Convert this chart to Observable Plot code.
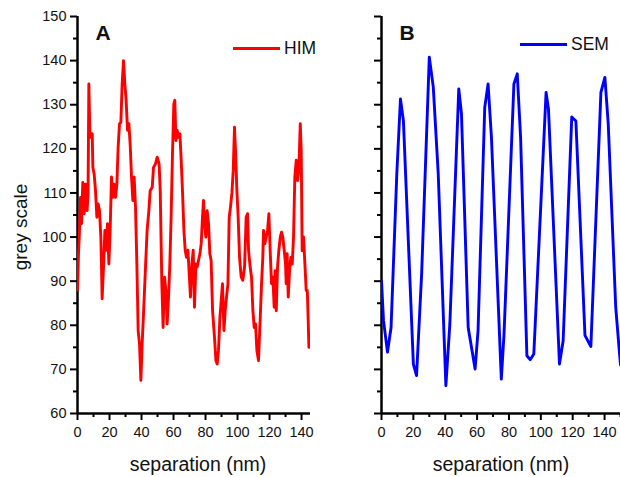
<!DOCTYPE html>
<html>
<head>
<meta charset="utf-8">
<script src="https://cdn.jsdelivr.net/npm/d3@7"></script>
<script src="https://cdn.jsdelivr.net/npm/@observablehq/plot@0.6"></script>
<style>
  html, body { margin: 0; padding: 0; background: #fff; }
  #wrap { position: relative; width: 620px; height: 477px; overflow: hidden; font-family: "Liberation Sans", Arial, sans-serif; color: #000; }
  #wrap svg { position: absolute; top: 0; }
  .leg { position: absolute; display: flex; align-items: center; font-size: 17.5px; line-height: 20px; color: #111; }
  .leg .sw { width: 47px; height: 3px; margin-right: 4px; }
</style>
</head>
<body>
<div id="wrap"></div>
<script>
// ---- data ----
const himX = [0,0.6,1.25,1.9,2.5,3.3,4.2,5,6,6.6,7.1,7.7,8.3,9.2,9.6,10.4,11.25,12.1,12.9,13.75,14.6,15.4,16.5,17.1,17.9,18.75,19.6,20.4,21.25,22.1,22.9,23.75,24.6,25.4,26.25,27.1,27.9,28.75,29.6,30.4,31.25,32.1,32.9,33.75,34.6,35.4,36.25,37.1,37.9,38.75,39.6,40.4,41.25,42.5,43.5,44.6,45.4,46.7,47.5,48.75,49.8,51,51.7,52.7,53.5,54.4,55.2,56,56.9,57.7,58.5,59.4,60.2,60.8,61.5,62.3,63.1,64,64.8,65.6,66.5,67.3,68.1,69,69.8,70.6,71.5,72.3,73.1,74,74.8,75.6,76.5,77.3,78.1,78.75,79.4,80.2,81,81.9,82.7,83.5,84.4,85.6,86.5,87.3,88.1,89,89.8,90.6,91.5,92.3,93.1,94,94.8,95.6,96.5,97.3,98.1,98.75,99.6,100.4,101.25,102.3,103.3,104.4,105.4,106.25,106.9,107.9,108.75,109.6,110.4,111.25,112.1,113.1,114.2,115,115.8,116.25,117.1,117.9,118.75,119.6,120.4,121.25,122.1,122.9,123.5,124.2,125,125.8,126.7,127.5,128.3,129.2,130,130.4,131,131.7,132.5,133.3,134.2,135,135.8,136.7,137.5,138.3,139.2,139.8,140.4,141.25,142.1,142.9,143.6,144.1,144.6];
const himY = [88,96,101.5,109,103,112.4,105.3,112,106,109.8,134.7,124,122.6,123.4,115.8,114.3,110.5,104.5,107.5,106,100,86,95.4,101.5,97,103,93.9,101.5,113.6,109,112,109,112,120.4,125.7,126,134.7,140,134.7,131,124.2,125.7,121.1,113.6,108.3,113.6,106.8,93.9,78.8,75.8,67.5,75.8,82.6,93.2,101.5,106,110.5,111.3,115.8,116.6,118.1,116.6,110.5,89.4,79.5,90.9,87.9,80.3,86.4,93.9,104.5,119.6,130.2,131,121.9,124.2,122.6,123.4,117.4,110.5,101.5,97,95.4,97,91.7,86.4,93.9,97,84.1,93.9,93.2,94.7,96.2,98.5,104.5,108.3,103,100,106,103,96.2,94.7,83.3,77.3,72,71.2,74.3,81.8,85.6,89.4,78.8,83.3,86.4,89.4,104.5,106.8,110,115,124.9,119.6,110.5,104.5,95.4,90.9,90.2,93.2,104.5,105.3,96.9,93.2,90.9,83.3,79.5,80.3,74.3,72,81.8,89.4,95.4,101.5,98.5,100,101.5,105.3,96.9,89.4,90.9,84.1,92.4,83.3,93.2,96.9,100,101.1,100,96.9,93.9,89.4,96.2,86.4,92.4,95.4,93.9,100,113.6,117.4,112.8,115.1,125.7,119.6,96.9,100,93.9,87.9,87.9,82,75];

const semX = [0,1.25,3.75,6,9.6,11.9,13.75,20,22,25.2,30,32.5,35.6,40.4,42.9,48.5,50.2,54.4,58.75,60.6,64.8,66.9,69,75.2,76.9,83.1,85.2,87.3,91.25,93.3,95.6,103.3,104.8,111.7,114,119.4,122,127.7,131.4,137.7,140.2,142.3,147,149.4,150];
const semY = [90.1,81.1,73.9,79.5,114.3,131.3,126.4,71.2,68.6,91.7,140.8,134,114.4,66.3,80.3,133.6,127.9,79.5,70.1,78.8,129.4,134.7,122.6,67.8,78,134.7,137,122.6,73.1,72.2,73.5,132.8,129,71.2,76.5,127.2,126.3,77.7,75.2,132.8,136.2,125.7,84.1,73.5,71];

const yMajor = [60,70,80,90,100,110,120,130,140,150];
const yMinor = [65,75,85,95,105,115,125,135,145];
const xMajor = [0,20,40,60,80,100,120,140];
const xMinorA = [10,30,50,70,90,110,130];
const xMinorB = [10,30,50,70,90,110,130,150];

const yLabel = "grey scale";
const xLabel = "separation (nm)";

// ---- build ----
const FONT = '"Liberation Sans", Arial, sans-serif';
const him = himX.map((x, i) => ({x, y: himY[i]}));
const sem = semX.map((x, i) => ({x, y: semY[i]}));

function panel({data, color, width, marginLeft, marginRight, xDomain, xMinor, letter, showYLabels, xLabelDx}) {
  const marks = [];
  if (showYLabels) {
    marks.push(Plot.axisY({ticks: yMajor, tickSize: 7, tickPadding: 4, strokeWidth: 2, fontSize: 14.5, label: null, fill: "#111"}));
    marks.push(Plot.text([yLabel], {frameAnchor: "left", text: d => d, rotate: -90, textAnchor: "middle", lineAnchor: "middle", dx: -57, dy: 12, fontSize: 19, fill: "#111"}));
  } else {
    marks.push(Plot.axisY({ticks: yMajor, tickSize: 7, strokeWidth: 2, fill: "none", label: null}));
  }
  marks.push(
    Plot.axisY({ticks: yMinor, tickSize: 4, strokeWidth: 2, fill: "none", label: null}),
    Plot.axisX({ticks: xMajor, tickSize: 7, tickPadding: 6, strokeWidth: 2, fontSize: 14.5, label: null, fill: "#111"}),
    Plot.axisX({ticks: xMinor, tickSize: 4, strokeWidth: 2, fill: "none", label: null}),
    Plot.ruleX([0], {stroke: "#000", strokeWidth: 2.5}),
    Plot.ruleY([60], {stroke: "#000", strokeWidth: 2.5}),
    Plot.line(data, {x: "x", y: "y", stroke: color, strokeWidth: 2.9, strokeLinejoin: "round", clip: true}),
    Plot.text([letter], {frameAnchor: "top-left", text: d => d, dx: 18, dy: 17, lineAnchor: "middle", textAnchor: "start", fontSize: 21, fontWeight: "bold", fill: "#111"}),
    Plot.text([xLabel], {frameAnchor: "bottom", text: d => d, dx: xLabelDx, dy: 51, lineAnchor: "middle", textAnchor: "middle", fontSize: 19.5, fill: "#111"})
  );
  return Plot.plot({
    width, height: 477,
    marginLeft, marginRight, marginTop: 16, marginBottom: 64,
    x: {domain: xDomain},
    y: {domain: [60, 150]},
    style: {fontFamily: FONT, background: "transparent", overflow: "visible"},
    marks
  });
}

const wrap = document.getElementById("wrap");
const a = panel({data: him, color: "#ff0000", width: 312, marginLeft: 77, marginRight: 2, xDomain: [0, 145.6], xMinor: xMinorA, letter: "A", showYLabels: true, xLabelDx: 4});
a.style.left = "0px";
wrap.appendChild(a);
const b = panel({data: sem, color: "#0000ff", width: 310, marginLeft: 71, marginRight: 0, xDomain: [0, 150], xMinor: xMinorB, letter: "B", showYLabels: false, xLabelDx: 0});
b.style.left = "310px";
wrap.appendChild(b);

function legend(label, color, left, top) {
  const d = document.createElement("div");
  d.className = "leg";
  d.style.left = left + "px";
  d.style.top = top + "px";
  const sw = document.createElement("span");
  sw.className = "sw";
  sw.style.background = color;
  const t = document.createElement("span");
  t.textContent = label;
  d.appendChild(sw); d.appendChild(t);
  wrap.appendChild(d);
}
legend("HIM", "#ff0000", 233, 38);
legend("SEM", "#0000ff", 520, 34);
</script>
</body>
</html>
